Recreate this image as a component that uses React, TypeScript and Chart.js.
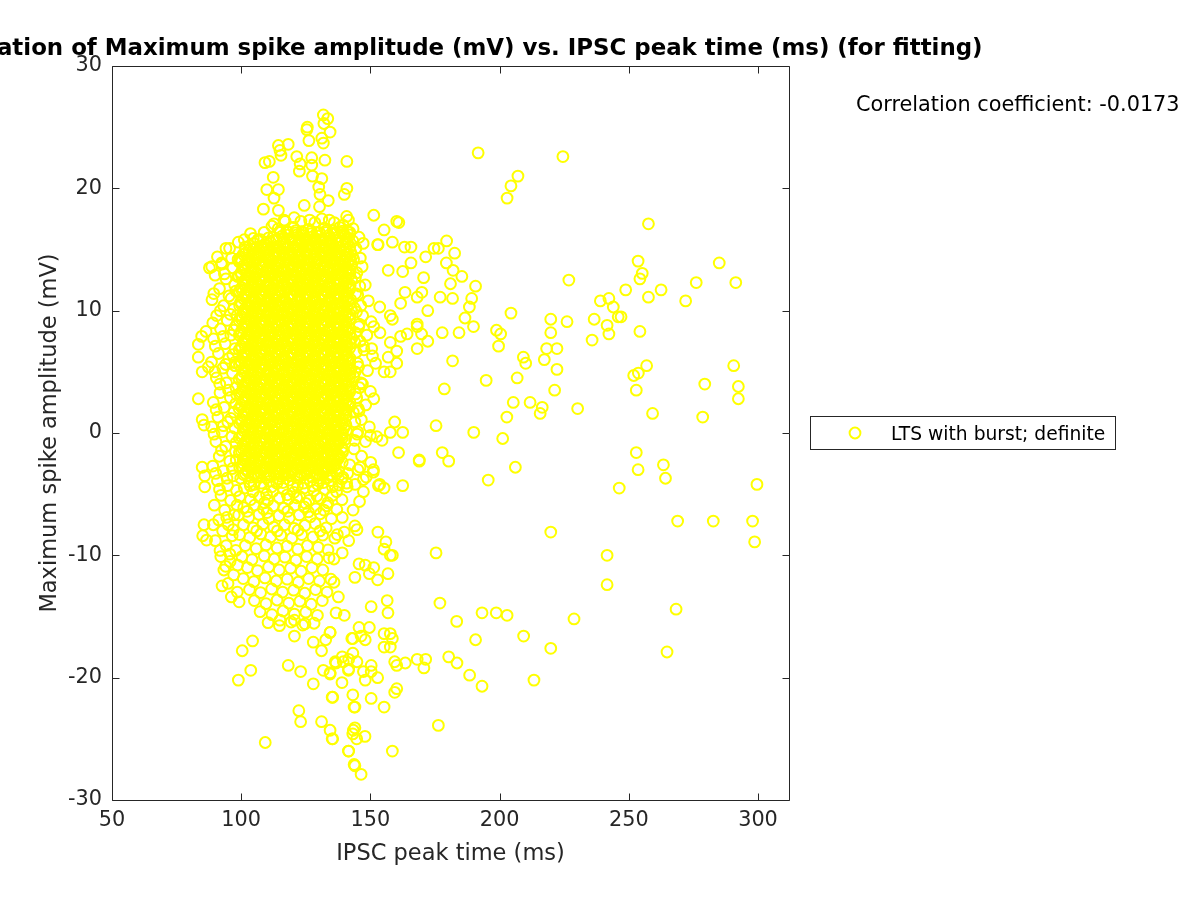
import React, { useEffect, useRef } from "react";
import { Chart, registerables } from "chart.js";

Chart.register(...registerables);

const titleText = "Correlation of Maximum spike amplitude (mV) vs. IPSC peak time (ms) (for fitting)";
const xAxisLabel = "IPSC peak time (ms)";
const yAxisLabel = "Maximum spike amplitude (mV)";
const legendLabel = "LTS with burst; definite";
const correlationText = "Correlation coefficient: -0.0173";
const xTickValues = [50, 100, 150, 200, 250, 300];
const yTickValues = [-30, -20, -10, 0, 10, 20, 30];
const xRange = [50, 312];
const yRange = [-30, 30];

type P = [number, number];

// dense core of the cluster (IPSC peak time ms, max spike amplitude mV)
const coreUpper: P[] = [
  [114.3,16.7],[117.6,16.5],[120.2,16.8],[123.5,16.45],[126.1,16.65],[129.4,16.4],[132.2,16.75],[135.5,16.55],[138.1,16.8],[141.0,16.5],
  [115.8,16.1],[118.9,15.9],[121.6,16.2],[124.8,15.85],[127.7,16.05],[130.6,15.8],[133.9,16.15],[136.7,15.95],[139.6,16.2],
  [104.9,15.5],[108.1,15.3],[111.3,15.6],[114.0,15.25],[117.2,15.45],[120.1,15.2],[123.0,15.55],[126.3,15.35],[129.0,15.6],[132.1,15.3],[135.2,15.5],[138.0,15.2],[141.2,15.5],
  [103.1,14.9],[106.4,14.7],[109.6,15.0],[112.5,14.65],[115.7,14.85],[118.5,14.6],[121.7,14.95],[124.6,14.75],[127.5,15.0],[130.7,14.7],[133.6,14.9],[136.4,14.6],[139.5,14.9],[142.3,14.8],
  [99.6,14.3],[102.4,14.1],[105.8,14.4],[108.5,14.05],[111.2,14.25],[114.4,14.0],[117.1,14.35],[120.3,14.15],[123.2,14.4],[126.0,14.1],[129.1,14.3],[132.3,14.0],[135.0,14.3],[138.2,14.2],[141.1,14.35],
  [101.0,13.7],[104.1,13.5],[107.2,13.8],[110.0,13.45],[113.1,13.65],[115.9,13.4],[118.8,13.75],[121.9,13.55],[124.7,13.8],[127.8,13.5],[130.5,13.7],[133.7,13.4],[136.6,13.7],[139.4,13.6],[142.5,13.75],
  [99.9,13.1],[102.8,12.9],[105.5,13.2],[108.9,12.85],[111.7,13.05],[114.6,12.8],[117.5,13.15],[120.6,12.95],[123.4,13.2],[126.5,12.9],[129.3,13.1],[132.0,12.8],[135.4,13.1],[138.5,13.0],[141.6,13.15],
  [101.4,12.5],[104.3,12.3],[107.0,12.6],[110.4,12.25],[113.3,12.45],[116.2,12.2],[119.2,12.55],[122.1,12.35],[125.0,12.6],[127.9,12.3],[130.9,12.5],[133.8,12.2],[136.9,12.5],[139.8,12.4],[142.7,12.55],
  [100.2,11.9],[103.0,11.7],[106.1,12.0],[108.7,11.65],[111.9,11.85],[114.8,11.6],[117.8,11.95],[120.7,11.75],[123.8,12.0],[126.6,11.7],[129.6,11.9],[132.6,11.6],[135.3,11.9],[138.3,11.8],[141.4,11.95],
  [101.7,11.3],[104.6,11.1],[107.5,11.4],[110.3,11.05],[113.0,11.25],[116.4,11.0],[119.0,11.35],[122.3,11.15],[125.2,11.4],[128.1,11.1],[131.2,11.3],[134.0,11.0],[137.1,11.3],[139.9,11.2],
  [99.8,10.7],[102.6,10.5],[105.6,10.8],[108.4,10.45],[111.4,10.65],[114.3,10.4],[117.3,10.75],[120.4,10.55],[123.1,10.8],[126.2,10.5],[129.2,10.7],[132.4,10.4],[135.1,10.7],[138.1,10.6],[141.3,10.75],
  [101.3,10.1],[104.2,9.9],[107.1,10.2],[110.2,9.85],[113.2,10.05],[115.8,9.8],[119.1,10.15],[121.8,9.95],[124.9,10.2],[128.0,9.9],[130.8,10.1],[133.9,9.8],[136.8,10.1],[139.7,10.0],[142.6,10.15],
  [100.4,9.5],[103.3,9.3],[106.2,9.6],[109.1,9.25],[112.0,9.45],[115.0,9.2],[117.9,9.55],[120.9,9.35],[123.6,9.6],[126.8,9.3],[129.7,9.5],[132.5,9.2],[135.6,9.5],[138.6,9.4],[141.5,9.55],
  [101.6,8.9],[104.8,8.7],[107.6,9.0],[110.5,8.65],[113.5,8.85],[116.5,8.6],[119.4,8.95],[122.2,8.75],[125.3,9.0],[128.3,8.7],[131.0,8.9],[134.2,8.6],[137.2,8.9],[140.0,8.8],
  [100.0,8.3],[102.9,8.1],[105.9,8.4],[108.8,8.05],[111.6,8.25],[114.7,8.0],[117.6,8.35],[120.5,8.15],[123.5,8.4],[126.4,8.1],[129.4,8.3],[132.2,8.0],[135.2,8.3],[138.4,8.2],[141.2,8.35],
];

const coreLower: P[] = [
  [101.5,7.7],[104.4,7.5],[107.3,7.8],[110.1,7.45],[113.4,7.65],[116.1,7.4],[119.3,7.75],[122.4,7.55],[125.1,7.8],[128.2,7.5],[131.3,7.7],[134.1,7.4],[136.9,7.7],[139.9,7.6],[142.8,7.75],
  [100.1,7.1],[103.2,6.9],[106.0,7.2],[109.2,6.85],[111.8,7.05],[114.9,6.8],[117.7,7.15],[120.8,6.95],[123.7,7.2],[126.7,6.9],[129.5,7.1],[132.7,6.8],[135.5,7.1],[138.5,7.0],[141.0,7.15],
  [101.8,6.5],[104.7,6.3],[107.7,6.6],[110.6,6.25],[113.6,6.45],[116.6,6.2],[119.6,6.55],[122.5,6.35],[125.4,6.6],[128.4,6.3],[131.4,6.5],[134.4,6.2],[137.3,6.5],[140.2,6.4],
  [99.7,5.9],[102.7,5.7],[105.7,6.0],[108.6,5.65],[111.5,5.85],[114.5,5.6],[117.4,5.95],[120.2,5.75],[123.3,6.0],[126.3,5.7],[129.3,5.9],[132.1,5.6],[135.3,5.9],[138.0,5.8],[141.4,5.95],
  [101.1,5.3],[104.0,5.1],[107.4,5.4],[110.3,5.05],[113.3,5.25],[116.3,5.0],[119.1,5.35],[122.0,5.15],[125.5,5.4],[128.5,5.1],[131.1,5.3],[134.3,5.0],[137.4,5.3],[140.1,5.2],
  [100.3,4.7],[103.4,4.5],[106.3,4.8],[109.3,4.45],[112.2,4.65],[115.1,4.4],[118.1,4.75],[121.1,4.55],[124.0,4.8],[126.9,4.5],[130.0,4.7],[132.9,4.4],[135.8,4.7],[138.7,4.6],[141.8,4.75],
  [101.9,4.1],[104.9,3.9],[107.8,4.2],[110.8,3.85],[113.8,4.05],[116.7,3.8],[119.7,4.15],[122.6,3.95],[125.7,4.2],[128.6,3.9],[131.5,4.1],[134.5,3.8],[137.5,4.1],[140.4,4.0],
  [100.6,3.5],[103.5,3.3],[106.5,3.6],[109.4,3.25],[112.3,3.45],[115.2,3.2],[118.2,3.55],[121.2,3.35],[124.2,3.6],[127.1,3.3],[130.1,3.5],[133.0,3.2],[135.9,3.5],[138.9,3.4],[141.9,3.55],
  [101.4,2.9],[104.5,2.7],[107.4,3.0],[110.5,2.65],[113.6,2.85],[116.4,2.6],[119.3,2.95],[122.3,2.75],[125.2,3.0],[128.3,2.7],[131.3,2.9],[134.2,2.6],[137.0,2.9],[140.0,2.8],
  [100.0,2.3],[103.1,2.1],[106.1,2.4],[109.0,2.05],[111.9,2.25],[114.8,2.0],[117.9,2.35],[120.7,2.15],[123.9,2.4],[126.8,2.1],[129.8,2.3],[132.6,2.0],[135.6,2.3],[138.6,2.2],[141.3,2.35],
  [101.6,1.7],[104.6,1.5],[107.6,1.8],[110.6,1.45],[113.5,1.65],[116.5,1.4],[119.4,1.75],[122.4,1.55],[125.3,1.8],[128.2,1.5],[131.2,1.7],[134.0,1.4],[137.1,1.7],[140.2,1.6],
  [100.2,1.1],[103.0,0.9],[106.0,1.2],[109.1,0.85],[112.1,1.05],[115.0,0.8],[118.0,1.15],[121.0,0.95],[124.1,1.2],[127.0,0.9],[129.9,1.1],[132.8,0.8],[135.8,1.1],[138.8,1.0],
  [101.2,0.5],[104.1,0.3],[107.2,0.6],[110.2,0.25],[113.2,0.45],[116.2,0.2],[119.2,0.55],[122.1,0.35],[125.0,0.6],[128.0,0.3],[131.0,0.5],[133.8,0.2],[136.7,0.5],[139.8,0.4],
  [100.5,-0.1],[103.3,-0.3],[106.4,0.0],[109.3,-0.35],[112.4,-0.15],[115.3,-0.4],[118.3,-0.05],[121.3,-0.25],[124.3,0.0],[127.3,-0.3],[130.2,-0.1],[133.1,-0.4],[136.1,-0.1],[139.0,-0.2],
  [101.8,-0.7],[104.8,-0.9],[107.9,-0.6],[110.7,-0.95],[113.7,-0.75],[116.8,-1.0],[119.8,-0.65],[122.7,-0.85],[125.8,-0.6],[128.7,-0.9],[131.6,-0.7],[134.6,-1.0],[137.6,-0.7],
  [100.7,-1.3],[103.6,-1.5],[106.7,-1.2],[109.6,-1.55],[112.6,-1.35],[115.5,-1.6],[118.6,-1.25],[121.5,-1.45],[124.4,-1.2],[127.4,-1.5],[130.4,-1.3],[133.3,-1.6],[136.3,-1.3],[139.3,-1.4],
  [102.0,-1.9],[105.0,-2.1],[108.0,-1.8],[111.0,-2.15],[114.0,-1.95],[117.0,-2.2],[120.1,-1.85],[123.0,-2.05],[126.1,-1.8],[129.0,-2.1],[132.0,-1.9],[135.0,-2.2],[138.0,-1.9],
  [100.8,-2.5],[103.8,-2.7],[106.8,-2.4],[109.8,-2.75],[112.8,-2.55],[115.7,-2.8],[118.7,-2.45],[121.6,-2.65],[124.6,-2.4],[127.6,-2.7],[130.6,-2.5],[133.5,-2.8],[136.5,-2.5],
  [102.2,-3.1],[105.2,-3.3],[108.2,-3.0],[111.1,-3.35],[114.1,-3.15],[117.2,-3.4],[120.0,-3.05],[123.1,-3.25],[126.0,-3.0],[129.2,-3.3],[132.2,-3.1],[135.1,-3.4],
];

// second, interleaved layer of the dense core
const coreInterleavedUpper: P[] = [
  [115.0,16.4],[118.2,16.2],[121.0,16.35],[124.0,16.15],[127.1,16.3],[130.0,16.1],[133.0,16.4],[136.1,16.25],[139.0,16.35],[142.0,16.2],
  [106.5,15.8],[109.8,15.6],[112.6,15.75],[116.4,15.55],[119.5,15.8],[122.4,15.65],[125.5,15.75],[128.4,15.55],[131.4,15.8],[134.5,15.6],[137.4,15.75],[140.4,15.6],[143.2,15.7],
  [101.5,15.2],[104.6,15.0],[107.7,15.15],[111.0,14.95],[113.9,15.2],[117.0,15.05],[120.0,15.15],[122.9,14.95],[125.9,15.2],[129.0,15.0],[131.9,15.15],[135.0,14.95],[138.0,15.15],[140.8,15.0],
  [100.8,14.6],[103.9,14.4],[107.0,14.55],[110.1,14.35],[113.0,14.6],[116.1,14.45],[119.0,14.55],[122.1,14.35],[125.0,14.6],[128.0,14.4],[131.1,14.55],[134.0,14.35],[137.0,14.55],[140.1,14.4],[143.0,14.5],
  [99.2,14.0],[102.2,13.8],[105.2,13.95],[108.3,13.75],[111.5,14.0],[114.2,13.85],[117.4,13.95],[120.4,13.75],[123.3,14.0],[126.3,13.8],[129.4,13.95],[132.2,13.75],[135.3,13.95],[138.1,13.8],[141.3,13.9],
  [100.6,13.4],[103.6,13.2],[106.6,13.35],[109.6,13.15],[112.4,13.4],[115.5,13.25],[118.3,13.35],[121.3,13.15],[124.2,13.4],[127.2,13.2],[130.2,13.35],[133.2,13.15],[136.2,13.35],[139.2,13.2],[142.2,13.3],
  [99.1,12.8],[102.1,12.6],[105.1,12.75],[108.0,12.55],[111.1,12.8],[114.0,12.65],[117.0,12.75],[119.9,12.55],[122.9,12.8],[125.8,12.6],[128.9,12.75],[131.8,12.55],[134.8,12.75],[137.7,12.6],[140.7,12.7],
  [100.9,12.2],[103.8,12.0],[106.7,12.15],[109.7,11.95],[112.7,12.2],[115.6,12.05],[118.5,12.15],[121.5,11.95],[124.4,12.2],[127.3,12.0],[130.3,12.15],[133.3,11.95],[136.3,12.15],[139.3,12.0],[142.2,12.1],
  [99.3,11.6],[102.3,11.4],[105.2,11.55],[108.2,11.35],[111.1,11.6],[114.1,11.45],[117.0,11.55],[120.0,11.35],[123.0,11.6],[126.0,11.4],[128.9,11.55],[131.9,11.35],[134.9,11.55],[137.8,11.4],[140.8,11.5],
  [100.8,11.0],[103.7,10.8],[106.8,10.95],[109.8,10.75],[112.8,11.0],[115.7,10.85],[118.7,10.95],[121.6,10.75],[124.6,11.0],[127.5,10.8],[130.5,10.95],[133.5,10.75],[136.4,10.95],[139.5,10.8],[142.4,10.9],
  [99.4,10.4],[102.4,10.2],[105.4,10.35],[108.3,10.15],[111.3,10.4],[114.2,10.25],[117.2,10.35],[120.1,10.15],[123.1,10.4],[126.1,10.2],[129.0,10.35],[132.0,10.15],[135.0,10.35],[138.0,10.2],[140.9,10.3],
  [100.9,9.8],[103.9,9.6],[106.8,9.75],[109.7,9.55],[112.6,9.8],[115.6,9.65],[118.5,9.75],[121.5,9.55],[124.5,9.8],[127.4,9.6],[130.4,9.75],[133.3,9.55],[136.3,9.75],[139.2,9.6],[142.1,9.7],
  [99.2,9.2],[102.2,9.0],[105.1,9.15],[108.1,8.95],[111.0,9.2],[114.0,9.05],[117.0,9.15],[119.9,8.95],[122.9,9.2],[125.9,9.0],[128.8,9.15],[131.7,8.95],[134.7,9.15],[137.7,9.0],[140.6,9.1],
  [100.7,8.6],[103.7,8.4],[106.6,8.55],[109.6,8.35],[112.6,8.6],[115.5,8.45],[118.5,8.55],[121.4,8.35],[124.4,8.6],[127.4,8.4],[130.3,8.55],[133.3,8.35],[136.2,8.55],[139.2,8.4],[142.1,8.5],
];

const coreInterleavedLower: P[] = [
  [99.3,8.0],[102.2,7.8],[105.2,7.95],[108.2,7.75],[111.1,8.0],[114.1,7.85],[117.0,7.95],[120.0,7.75],[122.9,8.0],[125.9,7.8],[128.9,7.95],[131.8,7.75],[134.8,7.95],[137.7,7.8],[140.7,7.9],
  [100.8,7.4],[103.8,7.2],[106.7,7.35],[109.7,7.15],[112.6,7.4],[115.6,7.25],[118.5,7.35],[121.5,7.15],[124.5,7.4],[127.4,7.2],[130.4,7.35],[133.3,7.15],[136.3,7.35],[139.2,7.2],[142.2,7.3],
  [99.2,6.8],[102.1,6.6],[105.1,6.75],[108.1,6.55],[111.0,6.8],[114.0,6.65],[117.0,6.75],[119.9,6.55],[122.9,6.8],[125.8,6.6],[128.8,6.75],[131.8,6.55],[134.7,6.75],[137.6,6.6],[140.6,6.7],
  [100.7,6.2],[103.7,6.0],[106.7,6.15],[109.6,5.95],[112.6,6.2],[115.5,6.05],[118.5,6.15],[121.5,5.95],[124.4,6.2],[127.3,6.0],[130.3,6.15],[133.2,5.95],[136.2,6.15],[139.2,6.0],[142.1,6.1],
  [99.3,5.6],[102.2,5.4],[105.2,5.55],[108.1,5.35],[111.1,5.6],[114.0,5.45],[117.0,5.55],[119.9,5.35],[122.9,5.6],[125.9,5.4],[128.8,5.55],[131.8,5.35],[134.7,5.55],[137.7,5.4],[140.7,5.5],
  [100.8,5.0],[103.7,4.8],[106.7,4.95],[109.6,4.75],[112.6,5.0],[115.6,4.85],[118.5,4.95],[121.5,4.75],[124.4,5.0],[127.4,4.8],[130.3,4.95],[133.3,4.75],[136.3,4.95],[139.2,4.8],[142.2,4.9],
  [99.2,4.4],[102.1,4.2],[105.1,4.35],[108.1,4.15],[111.0,4.4],[114.0,4.25],[116.9,4.35],[119.9,4.15],[122.8,4.4],[125.8,4.2],[128.8,4.35],[131.7,4.15],[134.7,4.35],[137.6,4.2],[140.6,4.3],
  [100.7,3.8],[103.7,3.6],[106.6,3.75],[109.6,3.55],[112.5,3.8],[115.5,3.65],[118.4,3.75],[121.4,3.55],[124.4,3.8],[127.3,3.6],[130.3,3.75],[133.2,3.55],[136.2,3.75],[139.1,3.6],[142.1,3.7],
  [99.3,3.2],[102.2,3.0],[105.2,3.15],[108.1,2.95],[111.1,3.2],[114.1,3.05],[117.0,3.15],[120.0,2.95],[122.9,3.2],[125.9,3.0],[128.8,3.15],[131.8,2.95],[134.7,3.15],[137.7,3.0],[140.6,3.1],
  [100.8,2.6],[103.8,2.4],[106.7,2.55],[109.7,2.35],[112.6,2.6],[115.6,2.45],[118.5,2.55],[121.5,2.35],[124.4,2.6],[127.4,2.4],[130.3,2.55],[133.3,2.35],[136.2,2.55],[139.2,2.4],[142.1,2.5],
  [99.2,2.0],[102.2,1.8],[105.1,1.95],[108.1,1.75],[111.0,2.0],[114.0,1.85],[116.9,1.95],[119.9,1.75],[122.8,2.0],[125.8,1.8],[128.7,1.95],[131.7,1.75],[134.6,1.95],[137.6,1.8],[140.5,1.9],
  [100.7,1.4],[103.7,1.2],[106.6,1.35],[109.6,1.15],[112.5,1.4],[115.5,1.25],[118.4,1.35],[121.4,1.15],[124.3,1.4],[127.3,1.2],[130.2,1.35],[133.2,1.15],[136.1,1.35],[139.1,1.2],
  [99.3,0.8],[102.2,0.6],[105.2,0.75],[108.1,0.55],[111.1,0.8],[114.0,0.65],[117.0,0.75],[119.9,0.55],[122.9,0.8],[125.8,0.6],[128.8,0.75],[131.7,0.55],[134.7,0.75],[137.6,0.6],[140.5,0.7],
  [100.8,0.2],[103.7,0.0],[106.7,0.15],[109.6,-0.05],[112.6,0.2],[115.5,0.05],[118.5,0.15],[121.4,-0.05],[124.4,0.2],[127.3,0.0],[130.3,0.15],[133.2,-0.05],[136.2,0.15],[139.1,0.0],
  [99.2,-0.4],[102.1,-0.6],[105.1,-0.45],[108.0,-0.65],[111.0,-0.4],[113.9,-0.55],[116.9,-0.45],[119.8,-0.65],[122.8,-0.4],[125.7,-0.6],[128.7,-0.45],[131.6,-0.65],[134.6,-0.45],[137.5,-0.6],[140.4,-0.5],
  [100.7,-1.0],[103.6,-1.2],[106.6,-1.05],[109.5,-1.25],[112.5,-1.0],[115.4,-1.15],[118.4,-1.05],[121.3,-1.25],[124.3,-1.0],[127.2,-1.2],[130.2,-1.05],[133.1,-1.25],[136.1,-1.05],[139.0,-1.2],
  [99.3,-1.6],[102.2,-1.8],[105.2,-1.65],[108.1,-1.85],[111.1,-1.6],[114.0,-1.75],[117.0,-1.65],[119.9,-1.85],[122.9,-1.6],[125.8,-1.8],[128.8,-1.65],[131.7,-1.85],[134.7,-1.65],[137.6,-1.8],
  [100.8,-2.2],[103.7,-2.4],[106.7,-2.25],[109.6,-2.45],[112.6,-2.2],[115.5,-2.35],[118.5,-2.25],[121.4,-2.45],[124.4,-2.2],[127.3,-2.4],[130.3,-2.25],[133.2,-2.45],[136.2,-2.25],[139.1,-2.4],
  [99.4,-2.8],[102.3,-3.0],[105.3,-2.85],[108.2,-3.05],[111.2,-2.8],[114.1,-2.95],[117.1,-2.85],[120.0,-3.05],[123.0,-2.8],[125.9,-3.0],[128.9,-2.85],[131.8,-3.05],[134.8,-2.85],
  [100.9,-3.4],[103.8,-3.6],[106.8,-3.45],[109.7,-3.65],[112.7,-3.4],[115.6,-3.55],[118.6,-3.45],[121.5,-3.65],[124.5,-3.4],[127.4,-3.6],[130.4,-3.45],[133.3,-3.65],
];

// third layer filling the gaps of the dense core
const coreFillUpper: P[] = [
  [115.0,16.5],[118.1,16.4],[121.2,16.55],[124.0,16.35],[127.1,16.5],[130.2,16.4],[133.0,16.55],[136.1,16.35],[139.2,16.5],[142.0,16.4],
  [104.7,15.9],[107.5,15.8],[110.6,15.95],[113.7,15.75],[116.5,15.9],[119.6,15.8],[122.7,15.95],[125.5,15.75],[128.6,15.9],[131.7,15.8],[134.5,15.95],[137.6,15.75],[140.7,15.9],
  [103.2,15.3],[106.0,15.2],[109.1,15.35],[112.2,15.15],[115.0,15.3],[118.1,15.2],[121.2,15.35],[124.0,15.15],[127.1,15.3],[130.2,15.2],[133.0,15.35],[136.1,15.15],[139.2,15.3],[142.0,15.2],
  [101.6,14.7],[104.7,14.6],[107.5,14.75],[110.6,14.55],[113.7,14.7],[116.5,14.6],[119.6,14.75],[122.7,14.55],[125.5,14.7],[128.6,14.6],[131.7,14.75],[134.5,14.55],[137.6,14.7],[140.7,14.6],
  [100.1,14.1],[103.2,14.0],[106.0,14.15],[109.1,13.95],[112.2,14.1],[115.0,14.0],[118.1,14.15],[121.2,13.95],[124.0,14.1],[127.1,14.0],[130.2,14.15],[133.0,13.95],[136.1,14.1],[139.2,14.0],[142.0,14.15],
  [101.6,13.5],[104.7,13.4],[107.5,13.55],[110.6,13.35],[113.7,13.5],[116.5,13.4],[119.6,13.55],[122.7,13.35],[125.5,13.5],[128.6,13.4],[131.7,13.55],[134.5,13.35],[137.6,13.5],[140.7,13.4],
  [100.1,12.9],[103.2,12.8],[106.0,12.95],[109.1,12.75],[112.2,12.9],[115.0,12.8],[118.1,12.95],[121.2,12.75],[124.0,12.9],[127.1,12.8],[130.2,12.95],[133.0,12.75],[136.1,12.9],[139.2,12.8],[142.0,12.95],
  [101.6,12.3],[104.7,12.2],[107.5,12.35],[110.6,12.15],[113.7,12.3],[116.5,12.2],[119.6,12.35],[122.7,12.15],[125.5,12.3],[128.6,12.2],[131.7,12.35],[134.5,12.15],[137.6,12.3],[140.7,12.2],
  [100.1,11.7],[103.2,11.6],[106.0,11.75],[109.1,11.55],[112.2,11.7],[115.0,11.6],[118.1,11.75],[121.2,11.55],[124.0,11.7],[127.1,11.6],[130.2,11.75],[133.0,11.55],[136.1,11.7],[139.2,11.6],[142.0,11.75],
  [101.6,11.1],[104.7,11.0],[107.5,11.15],[110.6,10.95],[113.7,11.1],[116.5,11.0],[119.6,11.15],[122.7,10.95],[125.5,11.1],[128.6,11.0],[131.7,11.15],[134.5,10.95],[137.6,11.1],[140.7,11.0],
  [100.1,10.5],[103.2,10.4],[106.0,10.55],[109.1,10.35],[112.2,10.5],[115.0,10.4],[118.1,10.55],[121.2,10.35],[124.0,10.5],[127.1,10.4],[130.2,10.55],[133.0,10.35],[136.1,10.5],[139.2,10.4],[142.0,10.55],
  [101.6,9.9],[104.7,9.8],[107.5,9.95],[110.6,9.75],[113.7,9.9],[116.5,9.8],[119.6,9.95],[122.7,9.75],[125.5,9.9],[128.6,9.8],[131.7,9.95],[134.5,9.75],[137.6,9.9],[140.7,9.8],
  [100.1,9.3],[103.2,9.2],[106.0,9.35],[109.1,9.15],[112.2,9.3],[115.0,9.2],[118.1,9.35],[121.2,9.15],[124.0,9.3],[127.1,9.2],[130.2,9.35],[133.0,9.15],[136.1,9.3],[139.2,9.2],[142.0,9.35],
  [101.6,8.7],[104.7,8.6],[107.5,8.75],[110.6,8.55],[113.7,8.7],[116.5,8.6],[119.6,8.75],[122.7,8.55],[125.5,8.7],[128.6,8.6],[131.7,8.75],[134.5,8.55],[137.6,8.7],[140.7,8.6],
];

const coreFillLower: P[] = [
  [100.1,8.1],[103.2,8.0],[106.0,8.15],[109.1,7.95],[112.2,8.1],[115.0,8.0],[118.1,8.15],[121.2,7.95],[124.0,8.1],[127.1,8.0],[130.2,8.15],[133.0,7.95],[136.1,8.1],[139.2,8.0],[142.0,8.15],
  [101.6,7.5],[104.7,7.4],[107.5,7.55],[110.6,7.35],[113.7,7.5],[116.5,7.4],[119.6,7.55],[122.7,7.35],[125.5,7.5],[128.6,7.4],[131.7,7.55],[134.5,7.35],[137.6,7.5],[140.7,7.4],
  [100.1,6.9],[103.2,6.8],[106.0,6.95],[109.1,6.75],[112.2,6.9],[115.0,6.8],[118.1,6.95],[121.2,6.75],[124.0,6.9],[127.1,6.8],[130.2,6.95],[133.0,6.75],[136.1,6.9],[139.2,6.8],[142.0,6.95],
  [101.6,6.3],[104.7,6.2],[107.5,6.35],[110.6,6.15],[113.7,6.3],[116.5,6.2],[119.6,6.35],[122.7,6.15],[125.5,6.3],[128.6,6.2],[131.7,6.35],[134.5,6.15],[137.6,6.3],[140.7,6.2],
  [100.1,5.7],[103.2,5.6],[106.0,5.75],[109.1,5.55],[112.2,5.7],[115.0,5.6],[118.1,5.75],[121.2,5.55],[124.0,5.7],[127.1,5.6],[130.2,5.75],[133.0,5.55],[136.1,5.7],[139.2,5.6],[142.0,5.75],
  [101.6,5.1],[104.7,5.0],[107.5,5.15],[110.6,4.95],[113.7,5.1],[116.5,5.0],[119.6,5.15],[122.7,4.95],[125.5,5.1],[128.6,5.0],[131.7,5.15],[134.5,4.95],[137.6,5.1],[140.7,5.0],
  [100.1,4.5],[103.2,4.4],[106.0,4.55],[109.1,4.35],[112.2,4.5],[115.0,4.4],[118.1,4.55],[121.2,4.35],[124.0,4.5],[127.1,4.4],[130.2,4.55],[133.0,4.35],[136.1,4.5],[139.2,4.4],[142.0,4.55],
  [101.6,3.9],[104.7,3.8],[107.5,3.95],[110.6,3.75],[113.7,3.9],[116.5,3.8],[119.6,3.95],[122.7,3.75],[125.5,3.9],[128.6,3.8],[131.7,3.95],[134.5,3.75],[137.6,3.9],[140.7,3.8],
  [100.1,3.3],[103.2,3.2],[106.0,3.35],[109.1,3.15],[112.2,3.3],[115.0,3.2],[118.1,3.35],[121.2,3.15],[124.0,3.3],[127.1,3.2],[130.2,3.35],[133.0,3.15],[136.1,3.3],[139.2,3.2],[142.0,3.35],
  [101.6,2.7],[104.7,2.6],[107.5,2.75],[110.6,2.55],[113.7,2.7],[116.5,2.6],[119.6,2.75],[122.7,2.55],[125.5,2.7],[128.6,2.6],[131.7,2.75],[134.5,2.55],[137.6,2.7],[140.7,2.6],
  [100.1,2.1],[103.2,2.0],[106.0,2.15],[109.1,1.95],[112.2,2.1],[115.0,2.0],[118.1,2.15],[121.2,1.95],[124.0,2.1],[127.1,2.0],[130.2,2.15],[133.0,1.95],[136.1,2.1],[139.2,2.0],[142.0,2.15],
  [101.6,1.5],[104.7,1.4],[107.5,1.55],[110.6,1.35],[113.7,1.5],[116.5,1.4],[119.6,1.55],[122.7,1.35],[125.5,1.5],[128.6,1.4],[131.7,1.55],[134.5,1.35],[137.6,1.5],[140.7,1.4],
  [100.1,0.9],[103.2,0.8],[106.0,0.95],[109.1,0.75],[112.2,0.9],[115.0,0.8],[118.1,0.95],[121.2,0.75],[124.0,0.9],[127.1,0.8],[130.2,0.95],[133.0,0.75],[136.1,0.9],[139.2,0.8],
  [101.6,0.3],[104.7,0.2],[107.5,0.35],[110.6,0.15],[113.7,0.3],[116.5,0.2],[119.6,0.35],[122.7,0.15],[125.5,0.3],[128.6,0.2],[131.7,0.35],[134.5,0.15],[137.6,0.3],[140.7,0.2],
  [100.1,-0.3],[103.2,-0.4],[106.0,-0.25],[109.1,-0.45],[112.2,-0.3],[115.0,-0.4],[118.1,-0.25],[121.2,-0.45],[124.0,-0.3],[127.1,-0.4],[130.2,-0.25],[133.0,-0.45],[136.1,-0.3],[139.2,-0.4],
  [101.6,-0.9],[104.7,-1.0],[107.5,-0.85],[110.6,-1.05],[113.7,-0.9],[116.5,-1.0],[119.6,-0.85],[122.7,-1.05],[125.5,-0.9],[128.6,-1.0],[131.7,-0.85],[134.5,-1.05],[137.6,-0.9],
  [100.1,-1.5],[103.2,-1.6],[106.0,-1.45],[109.1,-1.65],[112.2,-1.5],[115.0,-1.6],[118.1,-1.45],[121.2,-1.65],[124.0,-1.5],[127.1,-1.6],[130.2,-1.45],[133.0,-1.65],[136.1,-1.5],[139.2,-1.6],
  [101.6,-2.1],[104.7,-2.2],[107.5,-2.05],[110.6,-2.25],[113.7,-2.1],[116.5,-2.2],[119.6,-2.05],[122.7,-2.25],[125.5,-2.1],[128.6,-2.2],[131.7,-2.05],[134.5,-2.25],[137.6,-2.1],
  [100.1,-2.7],[103.2,-2.8],[106.0,-2.65],[109.1,-2.85],[112.2,-2.7],[115.0,-2.8],[118.1,-2.65],[121.2,-2.85],[124.0,-2.7],[127.1,-2.8],[130.2,-2.65],[133.0,-2.85],[136.1,-2.7],
  [101.6,-3.3],[104.7,-3.4],[107.5,-3.25],[110.6,-3.45],[113.7,-3.3],[116.5,-3.4],[119.6,-3.25],[122.7,-3.45],[125.5,-3.3],[128.6,-3.4],[131.7,-3.25],[134.5,-3.45],
];

// ragged outer rim of the dense core
const coreRim: P[] = [
  [145.6,16.0],[144.4,15.1],[146.1,14.3],[144.8,13.1],[145.9,12.0],[144.3,11.4],[146.3,10.4],[144.6,9.9],[145.7,8.9],
  [144.2,8.2],[146.0,7.5],[144.5,6.6],[145.4,5.4],[144.1,5.0],[145.8,3.7],[144.3,3.2],[145.3,2.0],[144.0,0.9],
  [145.1,0.1],[143.9,-0.6],[142.0,-2.6],[141.2,-3.3],[139.3,-3.6],[137.7,-3.1],[103.5,-4.3],[107.8,-4.1],
  [111.8,-4.4],[116.1,-4.05],[119.9,-4.35],[124.1,-4.1],[127.7,-4.35],[131.8,-4.05],[135.3,-4.4],[109.8,-5.0],
  [117.8,-5.05],[121.5,-5.3],[129.3,-5.15],[98.1,-2.2],[97.6,0.4],[98.3,3.1],[97.7,5.8],[98.4,9.6],
  [97.9,11.6],[98.8,14.2],[101.2,15.8],[103.6,16.3],[108.9,16.4],[111.9,16.9],[116.6,17.4],[123.1,17.3],
  [128.5,17.2],[134.1,17.4],[139.4,17.0],[143.3,16.7],
];

// left column of the cluster and its outer edge
const leftColumn: P[] = [
  [95.5,15.1],[92.4,13.8],[96.8,13.5],[89.9,12.9],[94.1,12.6],[97.5,12.1],[91.6,11.8],[95.3,11.2],[88.7,10.9],[93.2,10.4],
  [97.0,10.1],[90.5,9.6],[94.6,9.2],[98.1,8.8],[92.0,8.5],[96.0,8.0],[89.3,7.7],[93.8,7.3],[97.6,6.9],[91.2,6.5],
  [95.2,6.1],[88.5,5.8],[92.9,5.3],[96.6,4.9],[90.4,4.5],[94.3,4.1],[98.0,3.7],[91.8,3.3],[95.8,2.9],[89.2,2.5],
  [93.4,2.1],[97.2,1.7],[91.0,1.3],[94.8,0.9],[88.6,0.5],[92.6,0.1],[96.4,-0.3],[90.2,-0.7],[94.0,-1.1],[97.8,-1.5],
  [91.5,-1.9],[95.6,-2.3],[89.0,-2.7],[93.1,-3.1],[96.9,-3.5],[90.8,-3.9],[94.7,-4.3],[98.2,-4.7],[92.2,-5.1],[95.9,-5.5],
  [89.6,-5.9],[93.6,-6.3],[97.3,-6.7],[91.3,-7.1],[95.0,-7.5],[92.8,-8.0],[96.5,-8.4],[90.0,-8.8],[94.2,-9.2],[97.9,-9.6],
  [92.1,-10.1],[95.7,-10.5],[93.3,-11.2],[97.1,-11.6],[94.9,-12.3],[96.2,-13.4],[98.5,-13.0],[99.2,-13.8],
  [90.8,14.4],[96.3,14.3],[93.5,13.0],[98.6,12.8],[89.4,11.4],[96.1,11.0],[91.9,10.0],[95.8,9.7],[89.0,9.0],[97.2,8.4],
  [93.0,7.9],[90.0,7.1],[96.7,6.4],[94.0,5.6],[89.8,5.0],[97.6,5.5],[91.7,4.0],[95.1,3.5],[97.9,2.4],[90.3,1.9],
  [96.0,1.2],[93.1,0.6],[89.5,-0.1],[98.0,-0.8],[92.4,-1.4],[96.6,-2.9],[90.1,-3.3],[94.5,-3.7],[98.4,-5.9],[91.6,-4.6],
  [94.4,-6.9],[96.9,-7.9],[89.2,-7.5],[91.8,-9.6],[95.6,-9.9],[98.6,-10.8],[94.0,-10.9],[92.6,-12.5],
];

const leftEdge: P[] = [
  [87.7,13.5],[83.4,7.25],[84.7,7.9],[86.4,8.3],[83.4,6.2],[84.9,5.0],[87.3,5.4],[83.4,2.8],[84.9,1.1],[85.6,0.65],
  [84.9,-2.8],[85.9,-3.5],[85.9,-4.4],[85.6,-7.5],[85.1,-8.4],[86.6,-8.75],[88.6,13.6],[92.4,13.9],[94.1,15.1],[98.9,15.6],
];

// lower part of the cluster
const lowerBand: P[] = [
  [99.8,-3.7],[103.1,-4.0],[106.4,-3.6],[110.9,-3.95],[114.3,-3.75],[118.8,-3.85],[122.1,-3.65],[126.7,-3.95],[130.2,-3.7],[134.8,-3.9],[139.0,-3.75],
  [101.2,-4.5],[104.6,-4.8],[108.7,-4.45],[112.3,-4.75],[116.2,-4.55],[120.4,-4.85],[124.3,-4.5],[128.1,-4.7],[132.4,-4.6],[136.9,-4.8],[141.0,-4.4],
  [99.4,-5.2],[103.6,-5.45],[107.0,-5.25],[110.2,-5.5],[114.8,-5.3],[118.3,-5.4],[122.6,-5.2],[126.2,-5.5],[130.7,-5.35],[135.3,-5.1],[139.0,-5.45],
  [101.0,-6.1],[105.2,-5.9],[108.6,-6.2],[112.4,-5.95],[116.5,-6.15],[120.8,-5.9],[124.4,-6.05],[128.9,-6.2],[133.1,-5.95],[137.0,-6.25],
  [99.0,-6.7],[102.9,-6.9],[106.9,-6.65],[110.7,-7.0],[114.6,-6.75],[118.6,-6.95],[122.5,-6.7],[126.8,-6.85],[130.6,-6.6],[134.9,-7.0],
  [100.9,-7.5],[104.6,-7.75],[108.4,-7.45],[112.6,-7.7],[116.8,-7.5],[120.5,-7.8],[124.7,-7.55],[128.6,-7.4],[132.9,-7.75],
  [99.4,-8.3],[103.3,-8.55],[107.6,-8.25],[111.4,-8.5],[115.3,-8.35],[119.6,-8.6],[123.4,-8.3],[127.8,-8.5],[131.5,-8.35],[136.2,-8.6],
  [101.6,-9.2],[105.8,-9.45],[109.6,-9.15],[113.9,-9.4],[117.7,-9.25],[121.9,-9.5],[125.6,-9.2],[129.8,-9.35],[133.6,-9.55],
  [100.3,-10.1],[104.2,-10.35],[108.9,-10.05],[112.8,-10.3],[116.9,-10.15],[121.2,-10.4],[125.3,-10.1],[129.4,-10.3],[134.0,-10.2],
  [102.4,-11.0],[106.3,-11.25],[110.6,-10.95],[114.7,-11.2],[119.1,-11.05],[123.2,-11.3],[127.4,-11.0],[131.6,-11.2],
  [100.8,-11.9],[104.9,-12.15],[109.2,-11.85],[113.6,-12.1],[117.8,-11.95],[122.1,-12.2],[126.1,-11.9],[130.3,-12.1],[134.7,-11.95],
  [103.2,-12.8],[107.5,-13.05],[111.8,-12.75],[116.0,-13.0],[120.3,-12.85],[124.6,-13.1],[128.8,-12.8],[133.2,-13.0],
  [105.1,-13.7],[109.6,-13.95],[113.9,-13.65],[118.4,-13.9],[122.7,-13.75],[127.1,-14.0],[131.4,-13.7],
  [107.3,-14.6],[111.9,-14.85],[116.2,-14.55],[120.6,-14.8],[125.0,-14.65],[129.5,-14.9],
  [110.4,-15.5],[114.8,-15.75],[119.3,-15.45],[123.8,-15.7],[128.2,-15.55],
  [105.0,-4.2],[113.8,-4.1],[121.8,-4.3],[129.6,-4.2],[137.8,-4.25],[102.3,-6.4],[110.0,-6.5],[118.0,-6.4],
  [126.0,-6.45],[132.0,-6.3],[106.0,-8.0],[114.0,-8.0],[122.0,-7.95],[130.5,-8.0],[109.0,-5.7],[125.0,-5.75],[133.5,-5.7],
];

const lowerTail: P[] = [
  [104.4,-17.0],[100.4,-17.8],[103.7,-19.4],[98.9,-20.2],[109.3,-25.3],[118.2,-19.0],[123.0,-19.5],[127.9,-20.5],
  [120.6,-16.6],[127.9,-17.1],[131.1,-17.8],[134.4,-16.3],[132.7,-16.9],[131.8,-19.4],[134.4,-19.6],[135.2,-21.6],
  [122.3,-22.7],[123.0,-23.6],[131.1,-23.6],[134.4,-24.3],[135.2,-25.0],[141.5,-26.0],[143.7,-27.1],[143.2,-21.4],
  [143.7,-22.4],[143.4,-24.3],[139.0,-20.4],[136.4,-18.7],[139.5,-18.7],[141.5,-19.4],[142.8,-16.8],[115.0,-15.3],
  [120.6,-15.3],[124.7,-15.6],[146.4,-27.9],[144.0,-27.2],[141.6,-26.0],[147.9,-24.8],[144.7,-25.0],[135.4,-25.0],
  [143.2,-24.6],[144.0,-24.1],[144.0,-22.4],[150.3,-21.7],[155.3,-22.4],[135.4,-21.6],[158.5,-26.0],[176.3,-23.9],
  [139.1,-18.3],[141.6,-18.5],[143.2,-18.0],[144.8,-18.7],[136.7,-18.8],[141.6,-19.3],[147.3,-19.5],[150.3,-19.0],
  [150.3,-19.5],[148.0,-20.2],[152.8,-20.0],[134.4,-19.7],[159.4,-18.7],[160.2,-19.0],[159.4,-21.2],[160.2,-20.9],
  [163.5,-18.8],[168.1,-18.5],[171.4,-18.5],[170.7,-19.2],[155.3,-17.5],[157.7,-17.5],[155.3,-16.4],[157.7,-16.4],
  [158.5,-16.8],[143.2,-16.8],[146.4,-16.6],[148.0,-16.9],[145.6,-15.9],[149.6,-15.9],[134.4,-16.3],[136.7,-14.7],
  [139.9,-14.9],[156.8,-14.7],[150.3,-14.2],[156.5,-13.7],[137.6,-13.4],[135.9,-12.2],[144.0,-11.8],[152.8,-12.0],
  [149.6,-11.5],[156.8,-11.5],[145.6,-10.7],[148.0,-10.8],[151.3,-11.0],[135.9,-10.3],[139.1,-9.8],[157.7,-10.0],
  [158.5,-10.0],[155.3,-9.5],[156.0,-8.9],[152.9,-8.1],[141.6,-8.8],[137.2,-8.3],[139.9,-8.1],[144.8,-7.9],
  [144.0,-7.6],[139.1,-6.9],
];

// upper plume of the cluster
const upperPlume: P[] = [
  [131.8,26.0],[133.5,25.7],[132.0,25.3],[134.4,24.6],[125.6,25.0],[125.4,24.8],[126.2,23.9],[131.2,24.1],
  [131.8,23.7],[114.4,23.5],[115.0,23.1],[118.2,23.6],[115.4,22.7],[109.2,22.1],[110.9,22.2],[121.5,22.6],
  [122.8,22.0],[122.5,21.4],[127.3,22.5],[127.3,21.9],[132.4,22.3],[140.9,22.2],[112.4,20.9],[127.6,21.0],
  [131.2,20.8],[130.0,20.1],[109.9,19.9],[114.4,19.9],[140.9,20.0],[139.9,19.5],[130.5,19.5],[112.7,19.2],
  [133.7,19.0],[108.6,18.3],[114.4,18.2],[124.4,18.6],[130.3,18.5],[112.7,17.1],[131.2,17.5],[140.8,17.7],
  [141.5,17.4],[112.4,16.0],[147.2,15.5],[153.0,15.4],[120.5,17.6],[126.5,17.4],[136.0,17.2],[117.0,17.3],
];

// right flank of the cluster
const rightBand: P[] = [
  [143.5,14.2],[146.8,13.6],[144.2,12.7],[148.0,12.1],[145.1,11.3],[149.2,10.8],[143.8,10.2],[147.0,9.6],[150.3,9.1],
  [145.5,8.7],[148.6,8.0],[144.0,7.4],[147.5,6.8],[150.8,6.3],[145.0,5.7],[148.9,5.1],[143.6,4.6],[146.9,4.0],
  [150.0,3.4],[144.7,2.9],[148.2,2.3],[143.4,1.7],[146.5,1.1],[149.6,0.5],[144.9,-0.1],[148.1,-0.7],[143.7,-1.3],
  [146.6,-1.9],[150.1,-2.4],[145.2,-3.0],[148.4,-3.6],[144.1,-4.2],[147.3,-4.8],[145.8,-5.6],[143.3,-6.3],
  [146.0,-2.8],[151.1,-3.2],[147.3,-3.8],[153.1,-4.3],[155.3,-4.5],[162.5,-4.3],[140.8,-4.1],[137.0,-3.3],
  [150.0,-0.2],[152.5,-0.3],[154.5,-0.6],[151.2,-3.0],[153.6,-4.2],
];

// sparse points between 150 and 200 ms
const middleScatter: P[] = [
  [151.3,17.8],[161.0,17.2],[155.3,16.6],[158.5,15.6],[163.2,15.2],[165.7,15.2],[152.8,15.4],[179.5,15.7],
  [174.6,15.1],[176.3,15.1],[182.6,14.7],[171.4,14.4],[165.7,13.9],[179.4,13.9],[182.0,13.3],[156.9,13.3],
  [162.5,13.2],[185.4,12.8],[170.6,12.7],[181.0,12.2],[190.7,12.0],[163.4,11.5],[169.9,11.5],[168.1,11.1],
  [177.0,11.1],[181.8,11.0],[189.2,11.0],[161.7,10.6],[188.3,10.3],[172.2,10.0],[153.6,10.3],[186.6,9.4],
  [189.9,8.7],[177.8,8.2],[184.3,8.2],[168.1,8.9],[168.1,8.7],[169.8,8.1],[168.1,6.9],[172.2,7.5],
  [181.8,5.9],[178.6,3.6],[175.4,0.6],[177.8,-1.6],[168.9,-2.2],[160.9,-1.6],[151.3,2.8],[145.6,1.8],
  [159.4,0.9],[157.7,0.05],[162.5,0.05],[142.4,5.2],[146.4,4.1],[152.0,5.7],[155.3,5.0],[157.7,5.0],
  [160.2,5.7],[160.2,6.7],[156.9,6.2],[161.7,7.9],[164.2,8.1],[157.7,7.4],[158.5,9.3],[157.7,9.6],
  [150.5,6.9],[147.3,7.1],[151.3,8.7],[153.7,8.2],[160.2,17.3],[168.9,-2.3],[180.3,-2.3],[190.0,0.05],
  [194.8,4.3],[195.6,-3.85],[175.4,-9.8],[176.9,-13.9],[183.4,-15.4],[193.2,-14.7],[198.7,-14.7],[190.7,-16.9],
  [180.3,-18.3],[183.5,-18.8],[188.4,-19.8],[193.2,-20.7],[191.7,22.9],
];

// sparse points beyond 200 ms
const farRight: P[] = [
  [224.5,22.6],[207.1,21.0],[204.4,20.2],[202.9,19.2],[257.6,17.1],[253.6,14.05],[255.2,13.05],[254.3,12.6],
  [285.0,13.9],[291.4,12.3],[276.1,12.3],[226.8,12.5],[248.8,11.7],[262.5,11.7],[257.6,11.1],[272.0,10.8],
  [239.0,10.8],[242.3,11.0],[244.0,10.3],[245.9,9.5],[247.0,9.5],[236.6,9.3],[226.1,9.1],[241.6,8.8],
  [242.3,8.1],[235.8,7.6],[254.3,8.3],[222.2,6.9],[222.2,5.2],[221.3,3.5],[256.9,5.5],[251.9,4.7],
  [253.7,4.9],[252.9,3.5],[290.6,5.5],[279.4,4.0],[292.4,3.8],[292.4,2.8],[230.2,2.0],[259.2,1.6],
  [278.6,1.3],[252.9,-1.6],[253.6,-3.0],[263.4,-2.6],[264.2,-3.7],[246.3,-4.5],[299.6,-4.2],[268.9,-7.2],
  [282.7,-7.2],[297.9,-7.2],[298.7,-8.9],[241.6,-10.0],[241.6,-12.4],[268.3,-14.4],[264.8,-17.9],[228.8,-15.2],
  [219.8,-17.6],[213.3,-20.2],[209.3,-16.6],[219.8,-8.1],[206.1,-2.8],[204.4,9.8],[198.8,8.4],[200.4,8.1],
  [199.6,7.1],[219.8,9.3],[219.8,8.2],[218.2,6.9],[209.2,6.2],[210.1,5.7],[217.3,6.0],[206.8,4.5],
  [202.8,1.3],[205.3,2.5],[211.8,2.5],[216.5,2.1],[215.7,1.6],[201.2,-0.45],[202.9,-14.9],
];

const allPoints: P[] = [
  ...coreUpper, ...coreLower, ...coreInterleavedUpper, ...coreInterleavedLower,
  ...coreFillUpper, ...coreFillLower, ...coreRim,
  ...leftColumn, ...leftEdge, ...lowerBand, ...lowerTail, ...upperPlume,
  ...rightBand, ...middleScatter, ...farRight,
];

const AXIS_COLOR = "#262626";
const MARKER_COLOR = "#ffff00";
const FONT = "'DejaVu Sans', sans-serif";

const decorPlugin = {
  id: "matlabDecor",
  afterDatasetsDraw(chart: any) {
    const { ctx, chartArea, scales } = chart;
    const { left, right, top, bottom } = chartArea;
    const xs = scales.x;
    const ys = scales.y;
    ctx.save();
    // axes box
    ctx.strokeStyle = AXIS_COLOR;
    ctx.lineWidth = 1;
    ctx.beginPath();
    ctx.rect(left + 0.5, top + 0.5, right - left, bottom - top);
    ctx.stroke();
    // inward ticks on all four sides
    const tl = 7;
    ctx.beginPath();
    for (const v of xTickValues) {
      const px = Math.round(xs.getPixelForValue(v)) + 0.5;
      ctx.moveTo(px, bottom + 0.5);
      ctx.lineTo(px, bottom + 0.5 - tl);
      ctx.moveTo(px, top + 0.5);
      ctx.lineTo(px, top + 0.5 + tl);
    }
    for (const v of yTickValues) {
      const py = Math.round(ys.getPixelForValue(v)) + 0.5;
      ctx.moveTo(left + 0.5, py);
      ctx.lineTo(left + 0.5 + tl, py);
      ctx.moveTo(right + 0.5, py);
      ctx.lineTo(right + 0.5 - tl, py);
    }
    ctx.stroke();

    const cx = (left + right) / 2;
    // title (wider than the canvas, clipped on the left as in the original)
    ctx.fillStyle = "#000000";
    ctx.font = `bold 22.9px ${FONT}`;
    ctx.textAlign = "center";
    ctx.textBaseline = "alphabetic";
    ctx.fillText(titleText, cx, 55);

    // axis labels
    ctx.fillStyle = AXIS_COLOR;
    ctx.font = `22.5px ${FONT}`;
    ctx.fillText(xAxisLabel, cx, 860);
    ctx.save();
    ctx.translate(56, (top + bottom) / 2);
    ctx.rotate(-Math.PI / 2);
    ctx.fillText(yAxisLabel, 0, 0);
    ctx.restore();

    // correlation annotation
    ctx.fillStyle = "#000000";
    ctx.textAlign = "left";
    ctx.font = `20.8px ${FONT}`;
    ctx.fillText(correlationText, 856, 111);

    // legend
    ctx.fillStyle = "#ffffff";
    ctx.fillRect(810.5, 416.5, 305, 33);
    ctx.strokeStyle = AXIS_COLOR;
    ctx.lineWidth = 1;
    ctx.strokeRect(810.5, 416.5, 305, 33);
    ctx.strokeStyle = MARKER_COLOR;
    ctx.lineWidth = 2;
    ctx.beginPath();
    ctx.arc(855, 433, 5.4, 0, Math.PI * 2);
    ctx.stroke();
    ctx.fillStyle = "#000000";
    ctx.font = `18.7px ${FONT}`;
    ctx.fillText(legendLabel, 891, 440);
    ctx.restore();
  },
};

export default function App() {
  const canvasRef = useRef<HTMLCanvasElement | null>(null);

  useEffect(() => {
    const canvas = canvasRef.current;
    if (!canvas) return;
    const chart = new Chart(canvas, {
      type: "scatter",
      data: {
        datasets: [
          {
            label: legendLabel,
            data: allPoints.map(([x, y]) => ({ x, y })),
            pointStyle: "circle",
            pointRadius: 5.4,
            pointHoverRadius: 5.4,
            borderWidth: 2,
            borderColor: MARKER_COLOR,
            backgroundColor: "rgba(0,0,0,0)",
            showLine: false,
          },
        ],
      },
      options: {
        responsive: false,
        animation: false,
        events: [],
        layout: { padding: { left: 0, right: 411, top: 66, bottom: 0 } },
        plugins: {
          legend: { display: false },
          title: { display: false },
          tooltip: { enabled: false },
        },
        scales: {
          x: {
            type: "linear",
            min: xRange[0],
            max: xRange[1],
            grid: { display: false, drawTicks: false, tickLength: 0 },
            border: { display: false },
            afterBuildTicks: (s: any) => {
              s.ticks = xTickValues.map((v) => ({ value: v }));
            },
            afterFit: (s: any) => {
              s.height = 100;
            },
            ticks: {
              autoSkip: false,
              maxRotation: 0,
              padding: 8,
              color: AXIS_COLOR,
              font: { family: FONT, size: 20.8 },
              callback: (v: any) => String(v),
            },
          },
          y: {
            type: "linear",
            min: yRange[0],
            max: yRange[1],
            grid: { display: false, drawTicks: false, tickLength: 0 },
            border: { display: false },
            afterBuildTicks: (s: any) => {
              s.ticks = yTickValues.map((v) => ({ value: v }));
            },
            afterFit: (s: any) => {
              s.width = 112;
            },
            ticks: {
              autoSkip: false,
              padding: 10,
              color: AXIS_COLOR,
              font: { family: FONT, size: 20.8 },
              callback: (v: any) => String(v),
            },
          },
        },
      },
      plugins: [decorPlugin],
    });
    return () => chart.destroy();
  }, []);

  return (
    <div style={{ position: "absolute", left: 0, top: 0, width: 1200, height: 900, background: "#ffffff" }}>
      <canvas ref={canvasRef} width={1200} height={900} style={{ display: "block" }} />
    </div>
  );
}
